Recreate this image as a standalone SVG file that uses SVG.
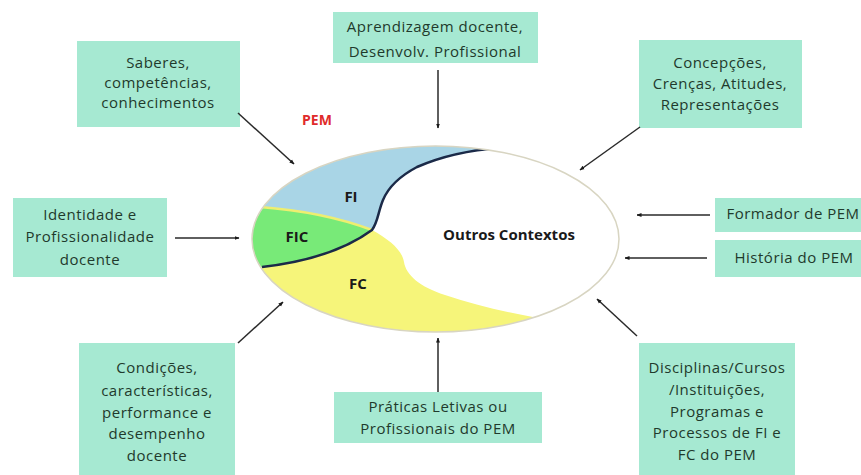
<svg xmlns="http://www.w3.org/2000/svg" width="861" height="475" viewBox="0 0 861 475">
<style>
.box{fill:#a6e9d2}
.t{font-family:"Open Sans","Liberation Sans",sans-serif;font-size:15px;letter-spacing:0.5px;fill:#1f3a2c;text-anchor:middle}
.lbl{font-family:"Open Sans","Liberation Sans",sans-serif;font-size:15px;font-weight:bold;fill:#1a1a1a;text-anchor:middle}
.arr{stroke:#2a2a2a;stroke-width:1.5;fill:none;marker-end:url(#ah)}
</style>
<defs>
<marker id="ah" viewBox="0 0 10 10" refX="9" refY="5" markerWidth="5" markerHeight="5" orient="auto" markerUnits="userSpaceOnUse">
<path d="M0,1 L10,5 L0,9 Z" fill="#1a1a1a"/>
</marker>
<clipPath id="ec"><ellipse cx="435.5" cy="239" rx="183.5" ry="93"/></clipPath>
</defs>
<rect width="861" height="475" fill="#ffffff"/>
<g id="center">
<ellipse cx="435.5" cy="239" rx="183.5" ry="93" fill="#ffffff"/>
<g clip-path="url(#ec)">
<path id="FI" d="M500,148 C470,150 440,157 417,167 C400,176 388,188 383,200 C378,212 378,222 372,230 C340,218 300,210 260,207 L240,207 L240,140 L500,140 Z" fill="#a9d5e6"/>
<path id="FIC" d="M260,207 C300,210 340,218 372,230 C345,250 305,262 262,267 L240,268 L240,207 Z" fill="#78ea78"/>
<path id="FC" d="M372,230 C345,250 305,262 262,267 L240,268 L240,340 L560,340 L560,322 C515,314 480,307 445,295 C420,287 406,275 404,262 C402,250 390,240 372,230 Z" fill="#f6f57a"/>
<path d="M260,207 C300,210 340,218 372,230" fill="none" stroke="#eeee70" stroke-width="2.5"/>
<path d="M500,148 C470,150 440,157 417,167 C400,176 388,188 383,200 C378,212 378,222 372,230 C345,250 305,262 262,267" fill="none" stroke="#1b2a48" stroke-width="2.5"/>
</g>
<ellipse cx="435.5" cy="239" rx="183.5" ry="93" fill="none" stroke="#d8d5c2" stroke-width="1.5"/>
<text class="lbl" x="351" y="202">FI</text>
<text class="lbl" x="297" y="242">FIC</text>
<text class="lbl" x="358" y="289">FC</text>
<text class="lbl" x="509" y="240">Outros Contextos</text>
<text x="317" y="125" font-family="Open Sans, Liberation Sans, sans-serif" font-size="14" font-weight="bold" fill="#e02b2b" text-anchor="middle">PEM</text>
</g>
<g id="n-saberes">
<rect class="box" x="77" y="41" width="163" height="86"/>
<text class="t" x="158" y="68">Saberes,</text>
<text class="t" x="158" y="88">competências,</text>
<text class="t" x="158" y="108">conhecimentos</text>
</g>
<g id="n-aprendizagem">
<rect class="box" x="333" y="12" width="205" height="51"/>
<text class="t" x="435" y="32">Aprendizagem docente,</text>
<text class="t" x="435" y="57">Desenvolv. Profissional</text>
</g>
<g id="n-concepcoes">
<rect class="box" x="639" y="40" width="163" height="88"/>
<text class="t" x="720" y="68">Concepções,</text>
<text class="t" x="720" y="89">Crenças, Atitudes,</text>
<text class="t" x="720" y="110">Representações</text>
</g>
<g id="n-identidade">
<rect class="box" x="13" y="198" width="154" height="79"/>
<text class="t" x="90" y="220">Identidade e</text>
<text class="t" x="90" y="242">Profissionalidade</text>
<text class="t" x="90" y="265">docente</text>
</g>
<g id="n-formador">
<rect class="box" x="715" y="198" width="150" height="34"/>
<text class="t" x="793" y="219">Formador de PEM</text>
</g>
<g id="n-historia">
<rect class="box" x="715" y="240" width="150" height="37"/>
<text class="t" x="794" y="263">História do PEM</text>
</g>
<g id="n-condicoes">
<rect class="box" x="79" y="343" width="156" height="132"/>
<text class="t" x="157" y="373">Condições,</text>
<text class="t" x="157" y="396">características,</text>
<text class="t" x="157" y="418">performance e</text>
<text class="t" x="157" y="439">desempenho</text>
<text class="t" x="157" y="461">docente</text>
</g>
<g id="n-praticas">
<rect class="box" x="334" y="392" width="208" height="51"/>
<text class="t" x="438" y="412">Práticas Letivas ou</text>
<text class="t" x="438" y="434">Profissionais do PEM</text>
</g>
<g id="n-disciplinas">
<rect class="box" x="639" y="343" width="156" height="132"/>
<text class="t" x="717" y="373">Disciplinas/Cursos</text>
<text class="t" x="717" y="395">/Instituições,</text>
<text class="t" x="717" y="417">Programas e</text>
<text class="t" x="717" y="438">Processos de FI e</text>
<text class="t" x="717" y="460">FC do PEM</text>
</g>
<g id="connectors">
<line class="arr" x1="238" y1="113" x2="294" y2="164"/>
<line class="arr" x1="438" y1="70" x2="438" y2="128"/>
<line class="arr" x1="640" y1="127" x2="580" y2="170"/>
<line class="arr" x1="175" y1="238" x2="239" y2="238"/>
<line class="arr" x1="710" y1="215" x2="637" y2="215"/>
<line class="arr" x1="707" y1="258" x2="625" y2="258"/>
<line class="arr" x1="238" y1="343" x2="283" y2="302"/>
<line class="arr" x1="438" y1="392" x2="438" y2="338"/>
<line class="arr" x1="637" y1="336" x2="597" y2="299"/>
</g>
</svg>
